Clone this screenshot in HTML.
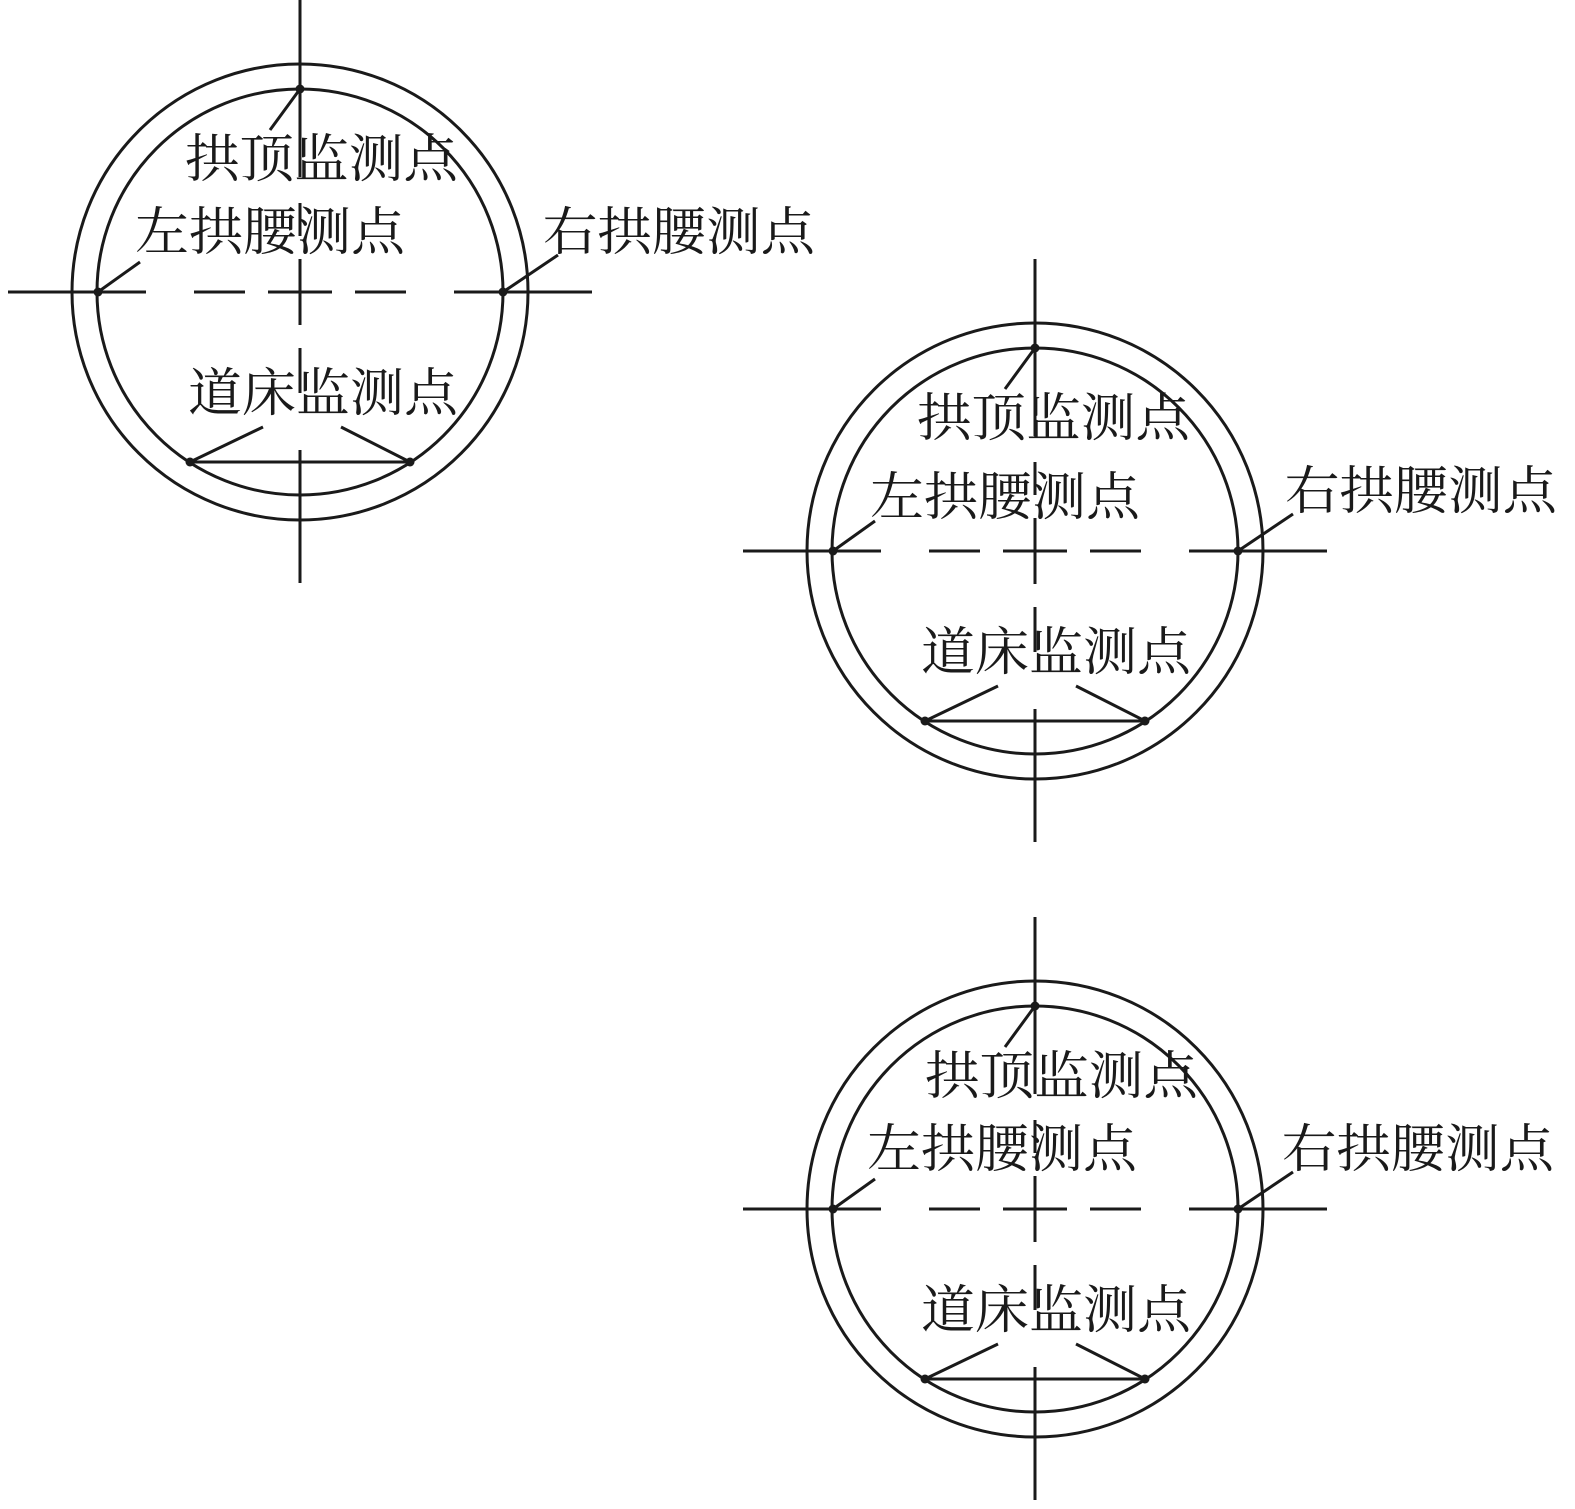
<!DOCTYPE html>
<html><head><meta charset="utf-8"><style>
html,body{margin:0;padding:0;background:#fff;}
svg{display:block;}
text{font-family:"Liberation Serif","Noto Serif CJK SC","Noto Sans CJK SC",serif;font-size:52px;fill:#1a1a1a;}
</style></head><body>
<svg width="1575" height="1509" viewBox="0 0 1575 1509" xmlns="http://www.w3.org/2000/svg">
<defs>
<g id="d" stroke="#1a1a1a" stroke-width="3" fill="none">
  <circle cx="300" cy="292" r="228"/>
  <circle cx="300" cy="292" r="203"/>
  <!-- horizontal centre line -->
  <line x1="8" y1="292" x2="146" y2="292"/>
  <line x1="194" y1="292" x2="245" y2="292"/>
  <line x1="268" y1="292" x2="332" y2="292"/>
  <line x1="355" y1="292" x2="406" y2="292"/>
  <line x1="454" y1="292" x2="592" y2="292"/>
  <!-- vertical centre line -->
  <line x1="300" y1="0" x2="300" y2="177"/>
  <line x1="300" y1="203" x2="300" y2="236"/>
  <line x1="300" y1="259" x2="300" y2="325"/>
  <line x1="300" y1="348" x2="300" y2="393"/>
  <line x1="300" y1="450" x2="300" y2="583"/>
  <!-- leaders -->
  <line x1="300" y1="89" x2="270" y2="130"/>
  <line x1="98" y1="292" x2="140" y2="262"/>
  <line x1="503" y1="292" x2="558" y2="255"/>
  <line x1="190" y1="462" x2="410" y2="462"/>
  <line x1="190" y1="462" x2="263" y2="427"/>
  <line x1="410" y1="462" x2="341" y2="427"/>
  <g fill="#1a1a1a" stroke="none">
    <circle cx="300" cy="89" r="4.5"/>
    <circle cx="98" cy="292" r="4.5"/>
    <circle cx="503" cy="292" r="4.5"/>
    <circle cx="190" cy="462" r="4.5"/>
    <circle cx="410" cy="462" r="4.5"/>
  </g>
</g>
</defs>

<use href="#d"/>
<text x="185" y="177" textLength="273" lengthAdjust="spacingAndGlyphs">拱顶监测点</text>
<text x="135" y="250" textLength="270" lengthAdjust="spacingAndGlyphs">左拱腰测点</text>
<text x="543" y="250" textLength="272" lengthAdjust="spacingAndGlyphs">右拱腰测点</text>
<text x="188" y="411" textLength="270" lengthAdjust="spacingAndGlyphs">道床监测点</text>

<g transform="translate(735,259)">
<use href="#d"/>
<text x="182" y="177" textLength="273" lengthAdjust="spacingAndGlyphs">拱顶监测点</text>
<text x="135" y="256" textLength="270" lengthAdjust="spacingAndGlyphs">左拱腰测点</text>
<text x="550" y="250" textLength="272" lengthAdjust="spacingAndGlyphs">右拱腰测点</text>
<text x="186" y="411" textLength="270" lengthAdjust="spacingAndGlyphs">道床监测点</text>
</g>

<g transform="translate(735,917)">
<use href="#d"/>
<text x="190" y="177" textLength="273" lengthAdjust="spacingAndGlyphs">拱顶监测点</text>
<text x="132" y="250" textLength="270" lengthAdjust="spacingAndGlyphs">左拱腰测点</text>
<text x="547" y="250" textLength="272" lengthAdjust="spacingAndGlyphs">右拱腰测点</text>
<text x="186" y="411" textLength="270" lengthAdjust="spacingAndGlyphs">道床监测点</text>
</g>
</svg>
</body></html>
